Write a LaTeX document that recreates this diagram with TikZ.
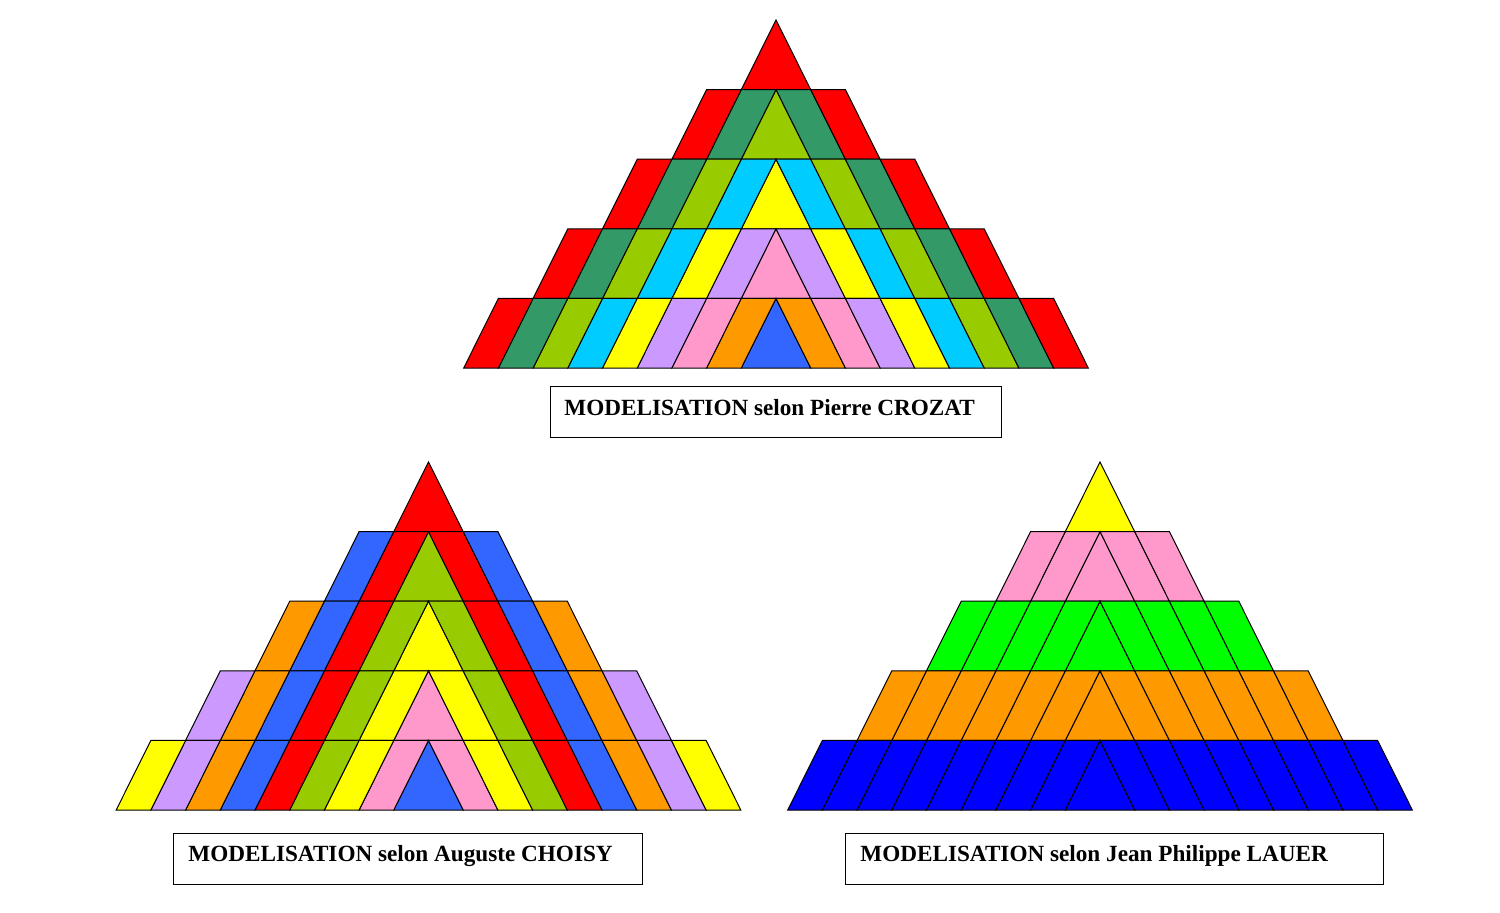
\documentclass[tikz,border=0pt]{standalone}
\usepackage{fontspec}
\setmainfont{Liberation Serif}
\definecolor{cR}{HTML}{FF0000}
\definecolor{cG}{HTML}{339966}
\definecolor{cL}{HTML}{99CC00}
\definecolor{cC}{HTML}{00CCFF}
\definecolor{cY}{HTML}{FFFF00}
\definecolor{cV}{HTML}{CC99FF}
\definecolor{cP}{HTML}{FF99CC}
\definecolor{cO}{HTML}{FF9900}
\definecolor{cB}{HTML}{3366FF}
\definecolor{cN}{HTML}{00FF00}
\definecolor{cD}{HTML}{0000FF}
\newcommand{\pyr}[4]{%
 \foreach \k in {0,...,4}{%
  \pgfmathsetmacro\yt{#2+\k*69.6}\pgfmathsetmacro\yb{\yt+69.6}%
  \pgfmathtruncatemacro\jj{2*\k}%
  \foreach \j in {0,...,\jj}{%
   \pgfmathtruncatemacro\ix{#4}%
   \pgfmathsetmacro\col{{#3}[\ix]}%
   \ifnum\j=0
     \filldraw[piece,fill=\col] (#1,\yt) -- (#1-34.7,\yb) -- (#1+34.7,\yb) -- cycle;
   \else
     \filldraw[piece,fill=\col] (#1-\j*34.7,\yt) -- (#1-\j*34.7+34.7,\yt) -- (#1-\j*34.7,\yb) -- (#1-\j*34.7-34.7,\yb) -- cycle;
     \filldraw[piece,fill=\col] (#1+\j*34.7,\yt) -- (#1+\j*34.7-34.7,\yt) -- (#1+\j*34.7,\yb) -- (#1+\j*34.7+34.7,\yb) -- cycle;
   \fi
  }%
 }%
}
\begin{document}
\begin{tikzpicture}[x=0.5pt,y=-0.5pt,
  piece/.style={draw=black,line width=0.5pt,line join=miter},
  lbl/.style={anchor=west,inner sep=0pt,font=\fontsize{11.6}{13}\selectfont\bfseries}]
\useasboundingbox (0,0) rectangle (1500,912);
\pyr{776}{20}{"cR","cG","cL","cC","cY","cV","cP","cO","cB"}{2*\k-\j}
\pyr{428.5}{462}{"cY","cV","cO","cB","cR","cL","cY","cP","cB"}{\k-\j+4}
\pyr{1100}{462}{"cY","cP","cN","cO","cD"}{\k}
\draw[line width=0.5pt] (550,386) rectangle (1001,437);
\node[lbl] (t1) at (564,408) {MODELISATION selon Pierre CROZAT};
\draw[line width=0.5pt] (173,833) rectangle (642,884);
\node[lbl] (t2) at (188,856) {MODELISATION selon Auguste CHOISY};
\draw[line width=0.5pt] (845,833) rectangle (1383,884);
\node[lbl] (t3) at (860,856) {MODELISATION selon Jean Philippe LAUER};
\end{tikzpicture}
\end{document}
